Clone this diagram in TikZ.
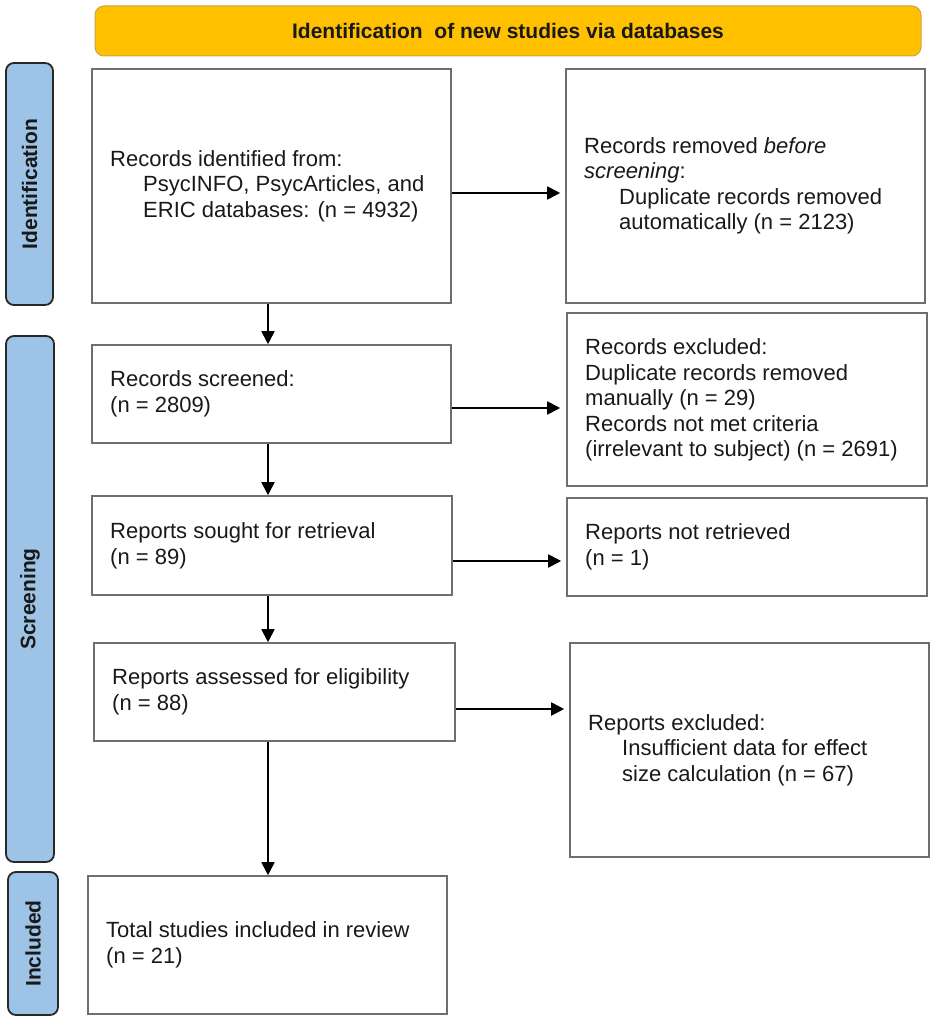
\documentclass[tikz,border=0pt]{standalone}
\usepackage{fontspec}
\setmainfont{Liberation Sans}
\usetikzlibrary{arrows.meta,fit}
\definecolor{boxgray}{RGB}{110,110,110}
\definecolor{txt}{RGB}{25,25,25}
\definecolor{barblue}{RGB}{157,195,230}
\definecolor{bardraw}{RGB}{40,40,40}
\definecolor{hdrfill}{RGB}{255,192,0}
\definecolor{hdrdraw}{RGB}{205,165,70}
\begin{document}
\begin{tikzpicture}[x=1pt,y=-1pt,
  pbox/.style={draw=boxgray, line width=1.6pt, rectangle, inner sep=0pt},
  ptext/.style={anchor=west, inner sep=0pt, align=left, text=txt,
    font=\fontsize{22}{25.5}\selectfont},
  sidebar/.style={draw=bardraw, fill=barblue, line width=1.8pt, rounded corners=8pt, inner sep=0pt},
  sidelabel/.style={rotate=90, inner sep=0pt, text=txt, font=\fontsize{21}{24}\selectfont\bfseries},
  hdr/.style={draw=hdrdraw, fill=hdrfill, line width=1pt, rounded corners=9pt, inner sep=0pt},
  arr/.style={draw=black, line width=1.8pt, -{Triangle[length=13pt,width=13pt]}}
]
\useasboundingbox (0,0) rectangle (935,1022);

% header
\node[hdr, fit={(95,6) (921,56)}] (H) {};
\node[inner sep=0pt, text=txt, font=\fontsize{21}{24}\selectfont\bfseries] (Ht) at (H.center) {Identification\ \ of new studies via databases};

% side bars
\node[sidebar, fit={(6,63) (53,305)}] (SID) {};
\node[sidelabel] (LID) at (SID.center) {Identification};
\node[sidebar, fit={(6,336) (54,862)}] (SSC) {};
\node[sidelabel] (LSC) at (SSC.center) {Screening};
\node[sidebar, fit={(8,872) (58,1015)}] (SIN) {};
\node[sidelabel] (LIN) at (SIN.center) {Included};

% boxes
\node[pbox, fit={(92,69) (451,303)}] (B1) {};
\node[ptext] (T1) at (110,186) {Records identified from:\\\hspace*{33pt}PsycINFO, PsycArticles, and\\\hspace*{33pt}ERIC databases: (n = 4932)};

\node[pbox, fit={(566,69) (925,303)}] (R1) {};
\node[ptext] (TR1) at (584,186) {Records removed \textit{before}\\\textit{screening}:\\\hspace*{35pt}Duplicate records removed\\\hspace*{35pt}automatically (n = 2123)};

\node[pbox, fit={(92,345) (451,443)}] (B2) {};
\node[ptext] (T2) at (110,394) {Records screened:\\(n = 2809)};

\node[pbox, fit={(567,313) (927,486)}] (R2) {};
\node[ptext] (TR2) at (585,400) {Records excluded:\\Duplicate records removed\\manually (n = 29)\\Records not met criteria\\(irrelevant to subject) (n = 2691)};

\node[pbox, fit={(92,496) (452,595)}] (B3) {};
\node[ptext] (T3) at (110,546) {Reports sought for retrieval\\(n = 89)};

\node[pbox, fit={(567,498) (927,596)}] (R3) {};
\node[ptext] (TR3) at (585,547) {Reports not retrieved\\(n = 1)};

\node[pbox, fit={(94,643) (455,741)}] (B4) {};
\node[ptext] (T4) at (112,692) {Reports assessed for eligibility\\(n = 88)};

\node[pbox, fit={(570,643) (929,857)}] (R4) {};
\node[ptext] (TR4) at (588,750) {Reports excluded:\\\hspace*{34pt}Insufficient data for effect\\\hspace*{34pt}size calculation (n = 67)};

\node[pbox, fit={(88,876) (447,1014)}] (B5) {};
\node[ptext] (T5) at (106,945) {Total studies included in review\\(n = 21)};

% helper coordinates
\coordinate (vx) at (268,0);
\coordinate (h1) at (0,193);
\coordinate (h2) at (0,408);
\coordinate (h3) at (0,561);
\coordinate (h4) at (0,709);

% vertical arrows
\draw[arr] (vx |- B1.south) -- (vx |- B2.north);
\draw[arr] (vx |- B2.south) -- (vx |- B3.north);
\draw[arr] (vx |- B3.south) -- (vx |- B4.north);
\draw[arr] (vx |- B4.south) -- (vx |- B5.north);

% horizontal arrows
\draw[arr, shorten >=5pt] (B1.east |- h1) -- (R1.west |- h1);
\draw[arr, shorten >=6pt] (B2.east |- h2) -- (R2.west |- h2);
\draw[arr, shorten >=5pt] (B3.east |- h3) -- (R3.west |- h3);
\draw[arr, shorten >=5pt] (B4.east |- h4) -- (R4.west |- h4);
\end{tikzpicture}
\end{document}
